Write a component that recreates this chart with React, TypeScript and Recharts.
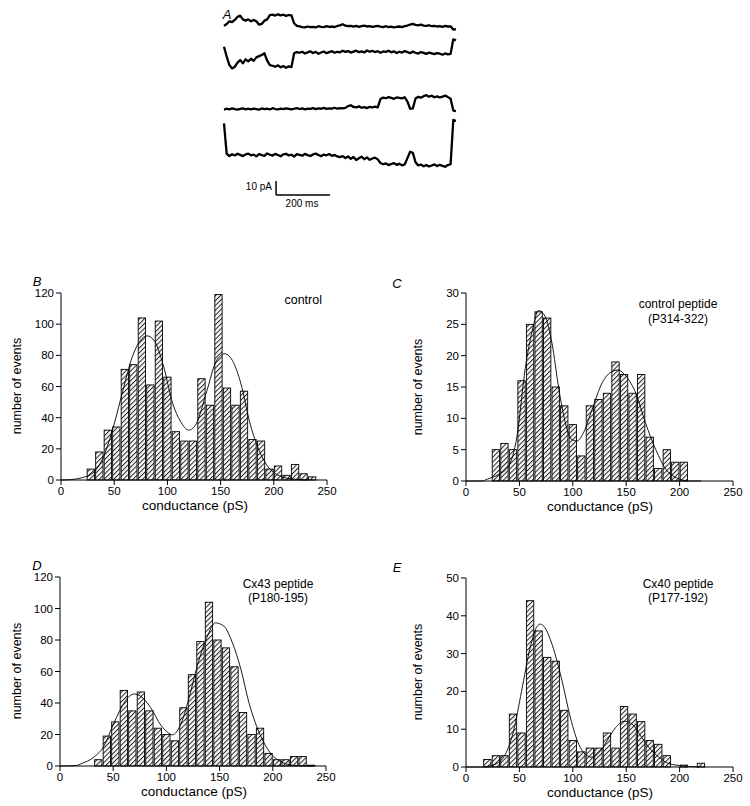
import React from "react";
import { ComposedChart, LineChart, Bar, Line, XAxis, YAxis, ReferenceLine } from "recharts";

const FONT = "'Liberation Sans', Arial, Helvetica, sans-serif";

// ---------------- Panel A: current traces (pA relative to final level), sampled every 10 ms ----------------
const traceTimeMs = [
  0, 10, 20, 30, 40, 50, 60, 70, 80, 90, 100, 110, 120, 130, 140, 150, 160, 170, 180, 190,
  200, 210, 220, 230, 240, 250, 260, 270, 280, 290, 300, 310, 320, 330, 340, 350, 360, 370, 380, 390,
  400, 410, 420, 430, 440, 450, 460, 470, 480, 490, 500, 510, 520, 530, 540, 550, 560, 570, 580, 590,
  600, 610, 620, 630, 640, 650, 660, 670, 680, 690, 700, 710, 720, 730, 740, 750, 760, 770, 780, 790,
  800, 810, 820, 830, 840, 850, 860,
];
const trace1 = [
  2.4, 3.8, 5.7, 5.2, 6.7, 9.0, 9.8, 7.1, 6.2, 7.1, 5.7, 6.7, 5.7, 3.3, 3.8, 6.2, 7.1,
  10.2, 10.5, 9.8, 10.7, 10.0, 10.4, 9.6, 10.2, 10.0,
  4.3, 2.4,
  2.1, 1.6, 1.4, 2.0, 1.5, 1.8, 1.3, 2.2, 1.7, 1.5, 2.3, 1.8, 2.0, 1.6, 2.4, 2.8, 3.6, 2.6, 2.2, 2.5,
  1.9, 2.4, 1.8, 2.2, 2.6, 2.0, 2.3, 1.7, 2.1, 2.5, 1.9, 1.6, 2.2, 1.5, 1.9, 1.4, 1.8, 2.0, 1.6, 2.3,
  2.7, 3.4, 3.9, 3.2, 2.8, 3.3, 2.6, 2.4, 2.9, 2.2, 2.5, 2.0, 2.3, 1.8, 2.4, 2.0,
  2.1, -0.2, 0.2,
];
const trace2 = [
  -4.3, -11.4, -17.4, -19.8, -18.6, -15.7, -13.8, -16.2, -13.3, -14.8, -12.9, -14.3, -11.9, -11.0, -10.2, -9.0, -14.3,
  -17.4, -17.9, -18.6, -17.6, -19.0, -18.1, -19.3, -18.3, -18.8,
  -9.0, -8.1,
  -8.6, -7.9, -9.1, -8.3, -7.6, -8.8, -8.0, -9.3, -8.4, -7.7, -8.9, -8.2, -7.5, -8.6, -7.9, -8.3, -7.2, -8.0,
  -7.4, -8.5, -7.8, -7.1, -8.2, -7.6, -8.4, -7.0, -7.9, -7.3, -8.1, -7.5, -8.6, -7.7, -8.0, -7.2, -8.3, -7.6,
  -8.8, -7.9, -8.5, -7.4, -8.2, -8.9, -7.8, -8.6, -9.2, -8.1, -8.7, -9.4, -8.5, -9.0, -9.6, -8.8, -9.3, -10.0,
  -9.1, -9.7,
  -9.4, 1.0, 0.2,
];
const trace3 = [
  0.3, 0.9, 0.5, 1.1, 0.6, 0.2, 0.8, 1.2, 0.5, 0.9, 0.4, 1.0, 0.7, 0.3, 1.1, 0.6, 0.9, 0.4, 1.3, 0.7,
  0.5, 1.0, 0.6, 1.2, 0.8, 0.4, 0.9, 1.4, 0.7, 1.1, 0.5, 1.0, 0.8, 1.3, 0.6, 1.1, 0.9, 1.5, 0.8, 1.2,
  1.0, 1.6, 0.9, 1.3, 1.1,
  1.5, 2.8, 3.4, 2.2, 1.8, 2.6, 1.6, 2.0, 1.4, 2.2, 1.8, 2.4, 1.9,
  7.8, 8.9, 8.4, 9.2, 8.6, 8.0, 9.0, 8.7, 8.3, 9.1,
  6.0, 0.9, 1.2,
  8.2, 9.4, 8.8, 9.9, 10.6, 9.5, 10.2, 9.1, 9.7, 8.9, 9.6, 10.3, 9.2,
  8.0, -0.4, -0.8,
];
const trace4 = [
  -1.2, -23.0,
  -24.5, -23.2, -24.1, -22.9, -23.7, -24.6, -23.4, -22.8, -24.0, -23.5, -24.8, -23.1, -23.9, -24.4, -22.7,
  -23.6, -24.2, -23.0, -23.8, -24.7, -23.3, -22.9, -24.1, -23.6, -24.9, -23.2, -23.7, -24.3, -23.0, -23.9,
  -24.5, -23.4, -22.8, -23.8, -24.6, -23.5, -24.0, -23.1, -24.4, -23.7, -24.8, -25.3, -24.6,
  -25.9, -24.8, -26.6, -25.2, -27.4, -26.1, -25.0, -26.8, -25.5, -27.2, -26.3, -25.7, -26.9,
  -29.5, -30.4, -29.8, -31.0, -30.2, -29.6, -30.8, -30.0, -31.2, -30.5,
  -26.0, -21.5, -22.3,
  -29.0, -31.2, -30.6, -31.8, -30.9, -32.0, -31.3, -30.5, -31.7, -30.8, -31.5, -32.2, -31.0,
  -30.4, 1.2, 0.6,
];
const scaleBarPA = 10;
const scaleBarMs = 200;

// ---------------- Histograms: bin centres (pS), counts, and fitted curve samples ----------------
const binWidthPS = 8;
const binsB = [28, 36, 44, 52, 60, 68, 76, 84, 92, 100, 108, 116, 124, 132, 140, 148, 156, 164, 172, 180, 188, 196, 204, 212, 220, 228, 236];
const countsB = [7, 18, 32, 34, 71, 74, 104, 61, 102, 66, 31, 25, 25, 65, 48, 119, 59, 48, 57, 26, 25, 7, 9, 3, 10, 4, 2];
const fitBx = [0, 10, 20, 30, 40, 50, 58, 67, 74, 81, 88, 96, 105, 112, 120, 127, 137, 146, 154, 162, 170, 177, 185, 193, 205, 218, 232];
const fitBy = [0, 0.3, 1.5, 4.5, 15, 36, 57, 79, 89, 92.5, 89, 74, 49, 38, 32, 36, 57, 76.5, 81, 75.5, 59.5, 38, 21, 10, 2.8, 0.6, 0];

const binsC = [28, 36, 44, 52, 60, 68, 76, 84, 92, 100, 108, 116, 124, 132, 140, 148, 156, 164, 172, 180, 188, 196, 204];
const countsC = [5, 6, 5, 16, 25, 27, 26, 15, 12, 9, 4, 12, 13, 14, 19, 17, 14, 17, 7, 2, 5, 3, 3];
const fitCx = [0, 15, 20, 30, 40, 47.6, 55.5, 62, 68, 74, 80.5, 87, 93, 99, 104, 110, 118, 127.6, 137, 142, 150, 159, 168, 177.7, 187, 197, 209, 220];
const fitCy = [0, 0, 0.3, 1, 2.4, 7, 18, 24, 27.2, 26.3, 22, 14.6, 9.3, 6.6, 6.4, 7.7, 11.4, 15.7, 17.5, 17.7, 16.7, 14, 9.3, 5, 1.9, 0.5, 0, 0];

const binsD = [36, 44, 52, 60, 68, 76, 84, 92, 100, 108, 116, 124, 132, 140, 148, 156, 164, 172, 180, 188, 196, 204, 212, 220, 228, 236];
const countsD = [4, 19, 28, 48, 35, 47, 35, 24, 20, 16, 37, 58, 79, 104, 80, 75, 63, 34, 20, 24, 8, 4, 4, 6, 6, 0.5];
const fitDx = [0, 15, 20, 32, 41.6, 49, 57, 65, 70, 76, 85, 95, 101, 105.6, 113, 121, 129, 138, 146, 154, 162, 170, 177.5, 187, 195, 207, 220, 238];
const fitDy = [0, 0.3, 1.5, 5.7, 13, 24.6, 36.2, 44.2, 45.7, 44.2, 37.3, 25.7, 21.5, 19.8, 25.7, 42.5, 63.6, 81.5, 90.9, 88.8, 78.3, 61.5, 40.4, 21.5, 10.9, 2.9, 0.4, 0];

const binsE = [20, 28, 36, 44, 52, 60, 68, 76, 84, 92, 100, 108, 116, 124, 132, 140, 148, 156, 164, 172, 180, 188, 196, 204, 212, 220];
const countsE = [2, 3, 3, 14, 9, 44, 36, 29, 28, 15, 7, 4, 5, 5, 9, 5, 16, 14, 12, 7, 6, 3, 0, 0.5, 0, 1];
const fitEx = [0, 15, 27, 36.7, 44.5, 52, 60, 66.5, 69.6, 74, 80.6, 90, 97.8, 105.6, 111.9, 118, 124.5, 132, 140, 148, 155.8, 163.6, 171.5, 181, 190, 203, 218];
const fitEy = [0, 0, 0.7, 3.3, 9.5, 20, 31.5, 37.2, 37.8, 36.8, 32.4, 22.7, 13, 6, 3.3, 2.6, 3.8, 6.9, 10.4, 12.1, 11.3, 8.2, 5.1, 2.5, 0.9, 0.3, 0];

const xTicks = [0, 50, 100, 150, 200, 250];
const yTicksB = [0, 20, 40, 60, 80, 100, 120];
const yTicksC = [0, 5, 10, 15, 20, 25, 30];
const yTicksD = [0, 20, 40, 60, 80, 100, 120];
const yTicksE = [0, 10, 20, 30, 40, 50];

const xTitle = "conductance (pS)";
const yTitle = "number of events";

// ---------------- layout constants ----------------
const A_LEFT = 224;
const A_RIGHT = 456;
const A_HEIGHT = 215;
const PX_PER_PA = 1.4;
const A_T_MAX = 860;
const traceBasePx = [29.3, 40.7, 110, 121.7];

function Txt({ x, y, children, size = 12, anchor = "middle", italic = false, rotate = 0 }: any) {
  const tx = anchor === "middle" ? "-50%" : anchor === "end" ? "-100%" : "0";
  return (
    <div
      style={{
        position: "absolute",
        left: x,
        top: y,
        transform: `translate(${tx}, -50%)${rotate ? ` rotate(${rotate}deg)` : ""}`,
        fontSize: size,
        fontStyle: italic ? "italic" : "normal",
        whiteSpace: "nowrap",
        lineHeight: 1,
        color: "#000",
      }}
    >
      {children}
    </div>
  );
}

function Traces() {
  const mk = (vals: number[], k: number) =>
    traceTimeMs.map((t, i) => ({ t, v: vals[i] - traceBasePx[k] / PX_PER_PA }));
  const series = [trace1, trace2, trace3, trace4].map((s, k) => mk(s, k));
  const yMin = -A_HEIGHT / PX_PER_PA;
  const barBottom = -195 / PX_PER_PA;
  const barX = 193;
  return (
    <div style={{ position: "absolute", left: 0, top: 0 }}>
      <LineChart width={750} height={A_HEIGHT} margin={{ top: 0, right: 750 - A_RIGHT, bottom: 0, left: A_LEFT }}>
        <XAxis type="number" dataKey="t" domain={[0, A_T_MAX]} hide />
        <YAxis type="number" domain={[yMin, 0]} hide allowDataOverflow />
        {series.map((d, k) => (
          <Line
            key={k}
            data={d}
            dataKey="v"
            type="linear"
            stroke="#000"
            strokeWidth={2.3}
            strokeLinejoin="round"
            dot={false}
            isAnimationActive={false}
          />
        ))}
        <ReferenceLine
          segment={[{ x: barX, y: barBottom }, { x: barX, y: barBottom + scaleBarPA }]}
          stroke="#000"
          strokeWidth={1.5}
        />
        <ReferenceLine
          segment={[{ x: barX, y: barBottom }, { x: barX + scaleBarMs, y: barBottom }]}
          stroke="#000"
          strokeWidth={1.5}
        />
      </LineChart>
    </div>
  );
}

function Histogram({ id, bins, counts, fx, fy, yMax, yTicks, left, right, top, bottom }: any) {
  const YW = 45;
  const divLeft = left - YW;
  const divTop = top - 10;
  const w = right - divLeft + 12;
  const h = bottom - divTop + 30;
  const barPx = ((right - left) / 250) * binWidthPS - 1.2;
  const data = bins.map((x: number, i: number) => ({ x, n: counts[i] }));
  const fit = fx.map((x: number, i: number) => ({ x, f: fy[i] }));
  const tick = { fill: "#000", fontSize: 11.5, fontFamily: FONT };
  const shape = (p: any) => {
    if (!p || !(p.height > 0)) return <g />;
    const cx = p.x + p.width / 2;
    return (
      <rect
        x={cx - barPx / 2}
        y={p.y}
        width={barPx}
        height={p.height}
        fill={`url(#hatch-${id})`}
        stroke="#000"
        strokeWidth={0.9}
      />
    );
  };
  return (
    <div style={{ position: "absolute", left: divLeft, top: divTop }}>
      <ComposedChart width={w} height={h} data={data} margin={{ top: 10, right: 12, bottom: 0, left: 0 }}>
        <defs>
          <pattern id={`hatch-${id}`} patternUnits="userSpaceOnUse" width="3.4" height="3.4" patternTransform="rotate(45)">
            <rect width="3.4" height="3.4" fill="#fafafa" />
            <line x1="0.5" y1="0" x2="0.5" y2="3.4" stroke="#1a1a1a" strokeWidth="0.95" />
          </pattern>
        </defs>
        <XAxis
          type="number"
          dataKey="x"
          domain={[0, 250]}
          ticks={xTicks}
          height={30}
          tickSize={5}
          tick={tick}
          stroke="#000"
          interval={0}
        />
        <YAxis
          type="number"
          domain={[0, yMax]}
          ticks={yTicks}
          width={YW}
          tickSize={5}
          tick={tick}
          stroke="#000"
          interval={0}
        />
        <Bar dataKey="n" shape={shape} isAnimationActive={false} />
        <Line data={fit} dataKey="f" type="monotone" stroke="#000" strokeWidth={0.9} dot={false} isAnimationActive={false} />
      </ComposedChart>
    </div>
  );
}

export default function App() {
  return (
    <div style={{ position: "absolute", left: 0, top: 0, width: 750, height: 806, background: "#fff", fontFamily: FONT, overflow: "hidden" }}>
      <Traces />
      <Txt x={227} y={14} size={13} italic>A</Txt>
      <Txt x={272} y={187} size={10} anchor="end">10 pA</Txt>
      <Txt x={302} y={204} size={10}>200 ms</Txt>

      <Histogram id="B" bins={binsB} counts={countsB} fx={fitBx} fy={fitBy} yMax={120} yTicks={yTicksB} left={61} right={327} top={293} bottom={480} />
      <Histogram id="C" bins={binsC} counts={countsC} fx={fitCx} fy={fitCy} yMax={30} yTicks={yTicksC} left={466} right={733} top={293} bottom={481} />
      <Histogram id="D" bins={binsD} counts={countsD} fx={fitDx} fy={fitDy} yMax={120} yTicks={yTicksD} left={60} right={326} top={577} bottom={766} />
      <Histogram id="E" bins={binsE} counts={countsE} fx={fitEx} fy={fitEy} yMax={50} yTicks={yTicksE} left={466} right={733} top={578} bottom={767} />

      <Txt x={37} y={281} size={13} italic>B</Txt>
      <Txt x={397} y={283} size={13} italic>C</Txt>
      <Txt x={37} y={565} size={13} italic>D</Txt>
      <Txt x={397} y={567} size={13} italic>E</Txt>

      <Txt x={17} y={386} size={12.5} rotate={-90}>{yTitle}</Txt>
      <Txt x={418} y={387} size={12.5} rotate={-90}>{yTitle}</Txt>
      <Txt x={17} y={671} size={12.5} rotate={-90}>{yTitle}</Txt>
      <Txt x={418} y={672} size={12.5} rotate={-90}>{yTitle}</Txt>

      <Txt x={195} y={506} size={13.5}>{xTitle}</Txt>
      <Txt x={600} y={507} size={13.5}>{xTitle}</Txt>
      <Txt x={194} y={792} size={13.5}>{xTitle}</Txt>
      <Txt x={600} y={793} size={13.5}>{xTitle}</Txt>

      <Txt x={322} y={300} size={12.5} anchor="end">control</Txt>
      <Txt x={678} y={304} size={12}>control peptide</Txt>
      <Txt x={678} y={319} size={12}>(P314-322)</Txt>
      <Txt x={278} y={584} size={12}>Cx43 peptide</Txt>
      <Txt x={278} y={598} size={12}>(P180-195)</Txt>
      <Txt x={678} y={584} size={12}>Cx40 peptide</Txt>
      <Txt x={678} y={598} size={12}>(P177-192)</Txt>
    </div>
  );
}
